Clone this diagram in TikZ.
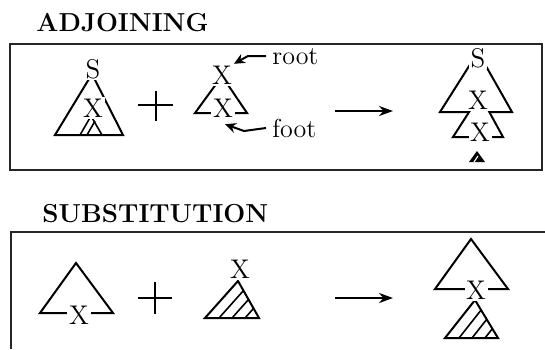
\documentclass[tikz,border=0pt]{standalone}
\usepackage{tikz}
\usetikzlibrary{arrows.meta,positioning,calc}

\tikzset{
  tree/.style={line width=1pt, line join=miter},
  sym/.style={font=\fontsize{13.5}{16}\selectfont, inner sep=0.8pt, fill=white},
  title/.style={font=\fontsize{13}{15}\selectfont\bfseries, anchor=base west, inner sep=0pt},
  note/.style={font=\fontsize{13}{15}\selectfont, anchor=base west, inner sep=0pt},
  frame/.style={line width=0.75pt, black!85},
  pointer/.style={line width=1pt, -{Stealth[length=5.5pt,width=5pt]}},
  bigarrow/.style={line width=1.2pt, -{Stealth[length=7pt,width=5pt]}},
  hatch/.style={line width=0.8pt},
}

\begin{document}
\begin{tikzpicture}[x=0.5pt,y=-0.5pt]
  \useasboundingbox (0,0) rectangle (545,349);

  % adjoining
  \node[title] (adjtitle) at (36,31) {ADJOINING};
  \draw[frame] (10,44) rectangle (542,170);

  % initial tree with X inside
  \draw[tree] (55,135) -- (92,74) -- (123,135) -- cycle;
  \draw[hatch] (80,135) -- (91,116) -- (102,135);
  \draw[hatch] (87,135) -- (95,121);
  \node[sym] (S1) at (93,69) {S};
  \node[sym] (X1) at (93,108) {X};

  \draw[tree] (138,105) -- (173,105);
  \draw[tree] (156,91) -- (156,121);

  % auxiliary tree
  \draw[tree] (195,113) -- (222,76) -- (247,113) -- cycle;
  \node[sym] (Xr) at (222,75) {X};
  \node[sym] (Xf) at (223,108) {X};
  \node[note] (root) at (272,64) {root};
  \node[note] (foot) at (272,137) {foot};
  \coordinate (rootbend) at (248,56);
  \coordinate (footbend) at (244,131);
  \draw[pointer] ([xshift=-3pt]root.west) -- (rootbend) -- (Xr.north east);
  \draw[pointer] ([xshift=-3pt]foot.west) -- (footbend) -- ([xshift=1pt,yshift=-2.5pt]Xf.south);

  \coordinate (adjfrom) at (335,111);
  \coordinate (adjto) at (393,111);
  \draw[bigarrow] (adjfrom) -- (adjto);

  % result
  \draw[tree] (440,112) -- (478,52) -- (512,112) -- cycle;
  \draw[tree, fill=white] (453,137) -- (480,95) -- (503,137) -- cycle;
  \fill (469,162) -- (477,151) -- (485,162) -- cycle;
  \draw[white, line width=0.6pt] (474,162) -- (478,156);
  \node[sym] (S2) at (478,58) {S};
  \node[sym] (X2) at (478,100) {X};
  \node[sym] (X3) at (480,132) {X};

  % substitution
  \node[title] (subtitle) at (42,222) {SUBSTITUTION};
  \draw[frame] (545,232) -- (11,232) -- (11,349);

  \draw[tree] (40,313) -- (76,263) -- (113,313) -- cycle;
  \node[sym] (X4) at (79,315) {X};

  \draw[tree] (138,298) -- (172,298);
  \draw[tree] (155,282) -- (155,314);

  \begin{scope}
    \clip (205,318) -- (238,281) -- (259,318) -- cycle;
    \foreach \k in {14,27,40}
      \draw[hatch] ({205+\k},318) -- ++(33,-37);
  \end{scope}
  \draw[tree] (205,318) -- (238,281) -- (259,318) -- cycle;
  \node[sym] (X5) at (240,269) {X};

  \coordinate (subfrom) at (335,298);
  \coordinate (subto) at (393,298);
  \draw[bigarrow] (subfrom) -- (subto);

  \draw[tree] (435,289) -- (471,239) -- (508,289) -- cycle;
  \begin{scope}
    \clip (445,338) -- (475,300) -- (498,338) -- cycle;
    \foreach \k in {14,27,40}
      \draw[hatch] ({445+\k},338) -- ++(30,-38);
  \end{scope}
  \draw[tree] (445,338) -- (475,300) -- (498,338) -- cycle;
  \node[sym] (X6) at (476,290) {X};
\end{tikzpicture}
\end{document}
